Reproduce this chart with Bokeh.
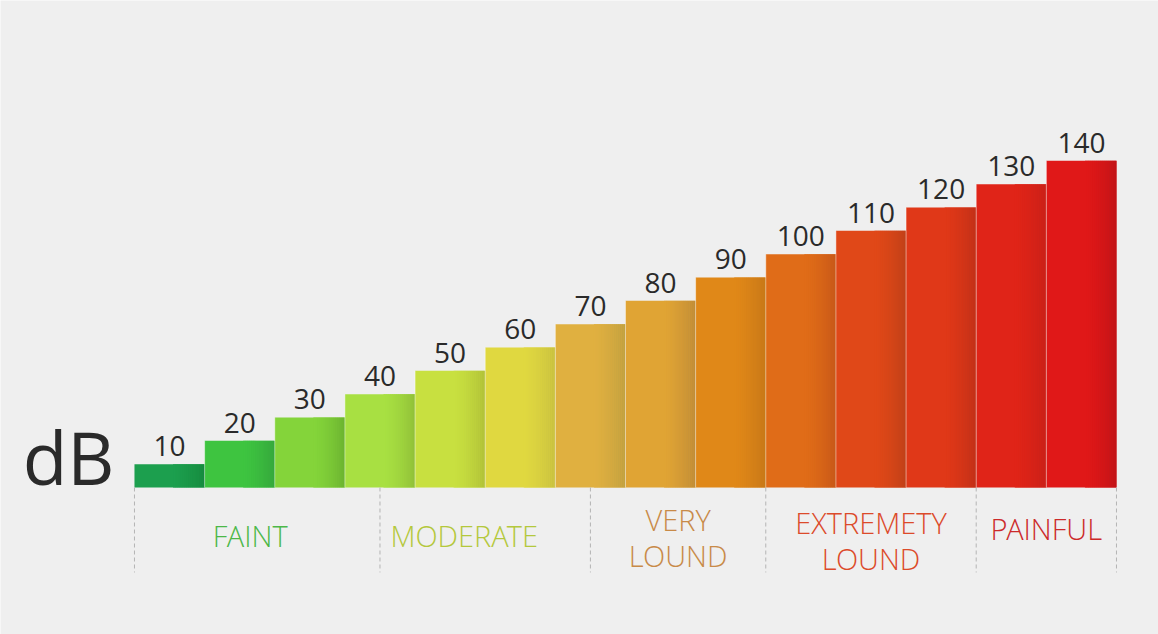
import numpy as np
from bokeh.plotting import figure
from bokeh.models import Range1d, ColumnDataSource
from bokeh.embed import file_html
from bokeh.resources import INLINE
from bokeh.core.properties import value

# Sound levels in decibels, one bar each
levels = [10, 20, 30, 40, 50, 60, 70, 80, 90, 100, 110, 120, 130, 140]

# Main (left) colour and shaded (right edge) colour of each bar
bar_colors = ["#1c9f4e", "#3ec440", "#84d43a", "#a8e042", "#c8e040", "#e0d840", "#e0b040",
              "#e0a434", "#e08818", "#e06c18", "#e04818", "#e03818", "#e02418", "#e01818"]
shade_colors = ["#168a3e", "#35a83c", "#6cb430", "#90c038", "#b0c038", "#c8c040", "#c0a040",
                "#c08c38", "#c87818", "#c85818", "#c04018", "#c03018", "#c82018", "#c01418"]

# Loudness categories
groups = ["FAINT", "MODERATE", "VERY\nLOUND", "EXTREMETY\nLOUND", "PAINFUL"]
group_colors = ["#4cb848", "#b4c83c", "#c88a48", "#dc4a2a", "#cc2a2a"]
group_bounds = [0, 3.5, 6.5, 9, 12, 14]          # in bar widths
group_label_x = [1.65, 4.7, 7.75, 10.5, 13.0]     # label anchor, in bar widths
group_label_dy = [48, 48, 50, 53, 41]             # px below the baseline

W, H = 1158, 634
BG = "#efefef"
LIGHT = value("Open Sans Light, Open Sans")

p = figure(width=W, height=H, output_backend="svg", toolbar_location=None,
           x_range=Range1d(-1.910, 14.599), y_range=Range1d(-63.0, 208.7),
           x_axis_type=None, y_axis_type=None,
           min_border=0, min_border_left=0, min_border_right=0,
           min_border_top=0, min_border_bottom=0)
p.grid.visible = False
p.outline_line_color = None
p.background_fill_color = BG
p.border_fill_color = BG


def mix(c1, c2, t):
    a = [int(c1[i:i + 2], 16) for i in (1, 3, 5)]
    b = [int(c2[i:i + 2], 16) for i in (1, 3, 5)]
    return "#%02x%02x%02x" % tuple(int(round(a[k] + (b[k] - a[k]) * t)) for k in range(3))


n = len(levels)
left = np.arange(n, dtype=float)
right = left + 1.0

# Solid bars
p.quad(left=left, right=right, bottom=0, top=levels,
       fill_color=bar_colors, line_color=None)

# Horizontal shading towards the right edge of each bar
steps = 16
frac = 0.45
sl, sr, st, sc = [], [], [], []
for i in range(n):
    x0 = right[i] - frac
    for k in range(steps):
        t = (k + 0.5) / steps
        sl.append(x0 + frac * k / steps)
        sr.append(min(x0 + frac * (k + 1) / steps + 0.002, right[i]))
        st.append(levels[i])
        sc.append(mix(bar_colors[i], shade_colors[i], t ** 1.4))
p.quad(left=sl, right=sr, bottom=0, top=st, fill_color=sc, line_color=None)

# Thin light divider on the left edge of each bar
p.segment(x0=left[1:], y0=0, x1=left[1:], y1=levels[1:],
          line_color="#ffffff", line_alpha=0.45, line_width=1)

# Value labels
p.text(x=left + 0.5, y=levels, text=[str(v) for v in levels],
       text_font=value("Open Sans"), text_font_size="28px", text_color="#2a2a2a",
       text_align="center", text_baseline="bottom", y_offset=-8)

# Dashed category separators
p.segment(x0=group_bounds, y0=0, x1=group_bounds, y1=-36.4,
          line_color="#b4b4b4", line_width=1, line_dash="4 3")

# Category labels
src = ColumnDataSource(dict(x=group_label_x, y=[0] * len(groups), text=groups,
                            color=group_colors, dy=group_label_dy))
p.text(x="x", y="y", text="text", text_color="color", y_offset="dy", source=src,
       text_font=LIGHT, text_font_size="29px",
       text_align="center", text_baseline="middle", text_line_height=0.9)

# Unit
p.text(x=[0], y=[0], text=["dB"], text_font=value("Open Sans"), text_font_size="73px",
       text_color="#2a2a2a", text_align="right", text_baseline="bottom",
       x_offset=-20, y_offset=19)

open("out.html", "w").write(file_html(p, INLINE))
